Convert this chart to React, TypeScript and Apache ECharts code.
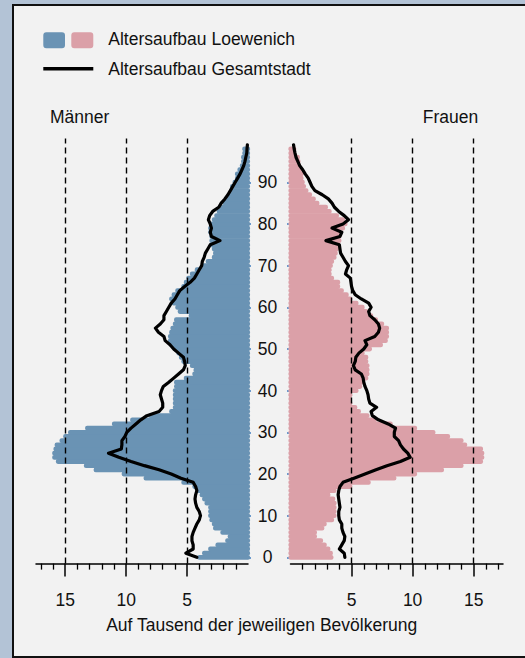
import React, { useEffect, useRef } from 'react';
import * as echarts from 'echarts';

// ---------- data ----------
const AGE_MIN = -1;
const AGE_MAX = 100;
const ageCategories: string[] = [];
for (let a = AGE_MIN; a <= AGE_MAX; a++) ageCategories.push(String(a));
const ageTickLabels = ['0', '10', '20', '30', '40', '50', '60', '70', '80', '90'];
const xTickLabels = [5, 10, 15];
const xMinorTicks = [1, 2, 3, 4, 6, 7, 8, 9, 11, 12, 13, 14, 16, 17];

// per mille, ages 0..98
const maleLoewenich = [
  4.0, 3.6, 3.1, 2.5, 1.7, 1.5, 2.1, 2.7, 2.8, 3.0,
  3.1, 3.1, 3.1, 3.4, 3.6, 3.8, 4.1, 4.4, 5.3, 8.4,
  10.2, 12.5, 13.3, 15.6, 15.9, 15.9, 15.8, 15.7, 15.3, 15.0,
  14.6, 13.2, 11.0, 9.5, 8.0, 6.3, 6.0, 6.0, 6.0, 6.0,
  6.0, 5.9, 5.9, 5.1, 4.4, 4.3, 4.6, 5.3, 5.5, 5.7,
  6.0, 6.3, 6.4, 6.4, 6.3, 6.2, 6.0, 5.9, 4.7, 5.6,
  5.8, 6.1, 6.3, 6.1, 5.8, 5.3, 5.1, 4.9, 4.6, 4.2,
  3.6, 3.3, 2.8, 2.7, 2.8, 3.0, 3.0, 3.0, 3.1, 3.1,
  3.0, 2.8, 2.6, 2.4, 2.2, 1.9, 1.8, 1.5, 1.3, 1.3,
  1.1, 0.9, 0.9, 0.7, 0.5, 0.4, 0.4, 0.3, 0.3,
];
const femaleLoewenich = [
  3.35, 3.3, 3.1, 2.8, 2.5, 2.0, 2.0, 2.6, 2.8, 3.4,
  3.6, 3.6, 3.6, 3.6, 3.5, 3.1, 3.6, 4.9, 6.4, 8.5,
  10.2, 12.4, 14.0, 15.6, 15.7, 15.7, 15.6, 14.3, 14.0, 12.9,
  11.7, 10.2, 8.2, 6.9, 6.3, 5.6, 5.3, 4.9, 4.85, 4.9,
  5.4, 5.7, 5.8, 6.2, 6.3, 6.3, 6.3, 6.2, 6.2, 5.9,
  6.5, 7.4, 7.8, 7.9, 7.9, 7.9, 7.5, 7.0, 6.6, 6.2,
  5.9, 5.4, 4.9, 4.6, 4.2, 3.9, 3.9, 3.4, 3.2, 3.2,
  3.3, 3.4, 3.6, 3.7, 3.8, 3.9, 4.0, 4.0, 4.0, 4.3,
  4.5, 4.3, 3.8, 3.2, 2.9, 2.2, 1.9, 1.6, 1.3, 1.1,
  1.0, 0.9, 0.9, 0.8, 0.7, 0.65, 0.6, 0.3, 0.3,
];
// per mille, ages 0..99
const maleGesamtstadt = [
  4.2, 5.1, 4.5, 4.5, 4.6, 4.6, 4.5, 4.35, 4.2, 4.0,
  3.9, 4.0, 4.2, 4.3, 4.35, 4.3, 4.2, 4.3, 4.5, 5.5,
  6.3, 7.3, 8.5, 9.6, 10.6, 11.45, 10.4, 10.35, 10.35, 10.1,
  9.95, 9.6, 9.2, 8.8, 8.3, 7.3, 7.0, 7.0, 7.1, 7.2,
  7.1, 6.95, 6.5, 6.1, 5.7, 5.3, 5.15, 5.2, 5.3, 5.7,
  6.1, 6.4, 6.8, 6.9, 7.35, 7.6, 7.2, 6.9, 6.9, 6.7,
  6.5, 6.3, 6.0, 5.8, 5.6, 5.2, 4.75, 4.4, 4.2, 4.0,
  3.8, 3.75, 3.6, 3.5, 3.3, 3.1, 2.3, 3.0, 3.1, 3.0,
  3.1, 3.25, 3.15, 2.9, 2.4, 2.2, 1.9, 1.65, 1.45, 1.25,
  1.05, 0.85, 0.65, 0.5, 0.35, 0.25, 0.18, 0.1, 0.08, 0.05,
];
const femaleGesamtstadt = [
  4.45, 4.4, 4.0, 4.2, 4.4, 4.45, 4.3, 4.2, 4.2, 4.0,
  3.95, 3.95, 4.05, 4.0, 3.95, 3.9, 3.95, 4.05, 4.3, 5.2,
  6.1, 7.0, 7.9, 9.0, 9.8, 9.6, 9.25, 9.0, 8.85, 8.5,
  8.5, 8.6, 8.0, 7.2, 6.7, 6.6, 7.05, 6.5, 6.4, 6.35,
  6.25, 6.1, 6.0, 5.95, 5.8, 5.3, 5.15, 5.3, 5.35, 5.6,
  6.0, 6.25, 6.1, 6.9, 7.2, 7.3, 7.2, 6.9, 6.5, 6.4,
  6.6, 6.4, 5.8, 5.3, 5.1, 5.0, 4.95, 4.9, 4.5, 4.6,
  4.75, 4.5, 4.3, 4.1, 4.05, 4.0, 2.9, 4.05, 4.2, 3.4,
  4.3, 4.75, 4.4, 3.95, 3.6, 3.4, 3.1, 2.6, 2.0, 1.75,
  1.6, 1.45, 1.2, 1.0, 0.75, 0.6, 0.45, 0.37, 0.3, 0.25,
];

// ---------- style ----------
const FONT = '"Liberation Sans", Arial, Helvetica, sans-serif';
const BLUE = '#6a93b4';
const PINK = '#dba0a8';
const TICK_BLUE = '#4a84c4';
const TEXT = '#111111';
const FS = 17.5;
const X_MAX = 17.4;
const GRID_TOP = 138.5;
const GRID_H = 425.1;

function pad(values: number[]): (number | null)[] {
  const out: (number | null)[] = ageCategories.map(() => null);
  values.forEach((v, age) => {
    out[age - AGE_MIN] = v;
  });
  return out;
}

const isDecade = (_idx: number, value: string) => ageTickLabels.indexOf(String(value)) >= 0;

function minorAxis(gridIndex: number, inverse: boolean) {
  return {
    type: 'value', gridIndex, inverse, min: 0, max: X_MAX, position: 'bottom',
    axisLine: { show: true, onZero: false, lineStyle: { color: '#000', width: 1.5 } },
    axisTick: { show: true, customValues: xMinorTicks, length: 6, lineStyle: { color: '#000', width: 1.3 } },
    axisLabel: { show: false },
    splitLine: { show: false },
  };
}
function majorAxis(gridIndex: number, inverse: boolean) {
  return {
    type: 'value', gridIndex, inverse, min: 0, max: X_MAX, position: 'bottom',
    axisLine: { show: false, onZero: false },
    axisTick: { show: true, customValues: xTickLabels, length: 13, lineStyle: { color: '#000', width: 1.5 } },
    axisLabel: { show: true, customValues: xTickLabels, margin: 27, fontSize: FS, color: TEXT, fontFamily: FONT },
    splitLine: { show: false },
  };
}
function gridLines(xAxisIndex: number, yAxisIndex: number) {
  return {
    type: 'line', xAxisIndex, yAxisIndex, data: [], z: 1, silent: true,
    markLine: {
      symbol: 'none', silent: true, animation: false,
      label: { show: false },
      lineStyle: { color: '#000', type: [6, 4], width: 1.4 },
      data: xTickLabels.map((v) => ({ xAxis: v })),
    },
  };
}
// each age is drawn as a thick bar with round ends (like a round-capped line)
function bars(xAxisIndex: number, yAxisIndex: number, values: number[], color: string, name: string) {
  return {
    type: 'custom', name, xAxisIndex, yAxisIndex, z: 2, silent: true,
    encode: { x: 0, y: 1 },
    data: values.map((v, age) => [v, age - AGE_MIN]),
    renderItem: (_params: any, api: any) => {
      const v = api.value(0);
      const c = api.value(1);
      const p0 = api.coord([0, c]);
      const p1 = api.coord([v, c]);
      const band = api.size([0, 1])[1];
      const h = band;
      const x0 = Math.min(p0[0], p1[0]) - h / 2;
      const x1 = Math.max(p0[0], p1[0]) + h / 2;
      return {
        type: 'rect',
        shape: { x: x0, y: p0[1] - h / 2 - 0.35, width: x1 - x0, height: h + 0.7, r: h / 2 },
        style: { fill: color },
      };
    },
  };
}
function line(xAxisIndex: number, yAxisIndex: number, values: number[], name: string) {
  return {
    type: 'line', name, xAxisIndex, yAxisIndex, data: pad(values), z: 3, silent: true,
    symbol: 'none', showSymbol: false, connectNulls: false,
    itemStyle: { color: '#000' },
    lineStyle: { color: '#000', width: 3.2, join: 'round', cap: 'round' },
  };
}

export default function App() {
  const ref = useRef<HTMLDivElement>(null);
  useEffect(() => {
    if (!ref.current) return;
    const chart = echarts.init(ref.current, undefined, { renderer: 'svg' });
    const textStyle = (extra: any) => ({ fontSize: FS, fontFamily: FONT, fill: TEXT, ...extra });
    chart.setOption({
      animation: false,
      grid: [
        { left: 36, top: GRID_TOP, width: 212, height: GRID_H },
        { left: 290.5, top: GRID_TOP, width: 212.5, height: GRID_H },
      ],
      xAxis: [minorAxis(0, true), majorAxis(0, true), minorAxis(1, false), majorAxis(1, false)],
      yAxis: [
        {
          type: 'category', gridIndex: 0, data: ageCategories, position: 'right', offset: 4,
          axisLine: { show: false },
          axisTick: { show: true, alignWithLabel: true, interval: isDecade, length: 3, lineStyle: { color: TICK_BLUE, width: 1.6 } },
          axisLabel: { show: true, interval: isDecade, align: 'center', margin: 15.5, fontSize: FS, color: TEXT, fontFamily: FONT },
          splitLine: { show: false },
        },
        {
          type: 'category', gridIndex: 1, data: ageCategories, position: 'left', offset: 2,
          axisLine: { show: false },
          axisTick: { show: true, alignWithLabel: true, interval: isDecade, length: 3.5, lineStyle: { color: TICK_BLUE, width: 1.6 } },
          axisLabel: { show: false, interval: isDecade },
          splitLine: { show: false },
        },
      ],
      series: [
        gridLines(0, 0),
        gridLines(2, 1),
        bars(0, 0, maleLoewenich, BLUE, 'Männer Loewenich'),
        bars(2, 1, femaleLoewenich, PINK, 'Frauen Loewenich'),
        line(0, 0, maleGesamtstadt, 'Männer Gesamtstadt'),
        line(2, 1, femaleGesamtstadt, 'Frauen Gesamtstadt'),
      ],
      graphic: [
        { type: 'rect', shape: { x: 43.3, y: 32.3, width: 21.7, height: 16, r: 3 }, style: { fill: BLUE } },
        { type: 'rect', shape: { x: 71.3, y: 32.3, width: 22, height: 16, r: 3 }, style: { fill: PINK } },
        { type: 'line', shape: { x1: 43.3, y1: 68.8, x2: 93.3, y2: 68.8 }, style: { stroke: '#000', lineWidth: 3.5 } },
        { type: 'text', x: 108.3, y: 38.6, style: textStyle({ text: 'Altersaufbau Loewenich', textAlign: 'left', textVerticalAlign: 'middle', align: 'left', verticalAlign: 'middle' }) },
        { type: 'text', x: 108.3, y: 69, style: textStyle({ text: 'Altersaufbau Gesamtstadt', textAlign: 'left', textVerticalAlign: 'middle', align: 'left', verticalAlign: 'middle' }) },
        { type: 'text', x: 50, y: 117, style: textStyle({ text: 'Männer', textAlign: 'left', textVerticalAlign: 'middle', align: 'left', verticalAlign: 'middle' }) },
        { type: 'text', x: 478.3, y: 117, style: textStyle({ text: 'Frauen', textAlign: 'right', textVerticalAlign: 'middle', align: 'right', verticalAlign: 'middle' }) },
        { type: 'text', x: 261.7, y: 624.7, style: textStyle({ text: 'Auf Tausend der jeweiligen Bevölkerung', textAlign: 'center', textVerticalAlign: 'middle', align: 'center', verticalAlign: 'middle' }) },
      ],
    });
    return () => chart.dispose();
  }, []);

  return (
    <div style={{ position: 'absolute', left: 0, top: 0, width: 525, height: 658, overflow: 'hidden', background: '#b3c3d6' }}>
      <div
        style={{
          position: 'absolute', left: 12, top: 4, width: 540, height: 650,
          border: '2px solid #111', background: '#f2f2f2', boxSizing: 'content-box',
        }}
      />
      <div ref={ref} style={{ position: 'absolute', left: 0, top: 0, width: 525, height: 658 }} />
    </div>
  );
}
